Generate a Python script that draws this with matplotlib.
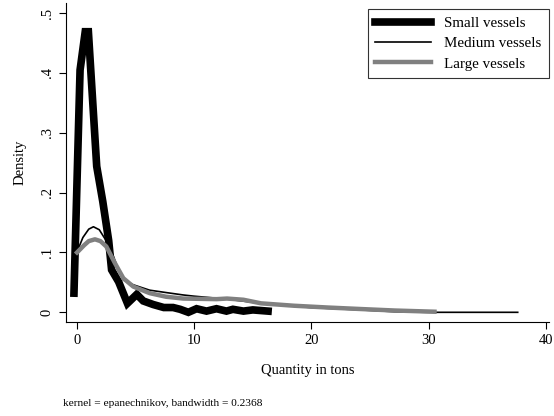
import matplotlib.pyplot as plt

plt.rcParams['font.family'] = ['Liberation Serif', 'DejaVu Serif']

# Kernel density estimates
small_x = [-0.26, 0.26, 0.7, 0.97, 1.68, 2.2, 2.7, 2.95, 3.55, 4.3, 5.1, 5.65, 6.5,
           7.4, 8.2, 8.8, 9.5, 10.2, 11.05, 11.9, 12.75, 13.3, 14.2, 15.0, 16.3]
small_y = [0.032, 0.405, 0.469, 0.469, 0.244, 0.185, 0.12, 0.071, 0.051, 0.015, 0.03,
           0.019, 0.013, 0.008, 0.008, 0.005, 0.0, 0.006, 0.002, 0.006, 0.002,
           0.005, 0.002, 0.004, 0.002]

medium_x = [0.0, 0.5, 1.0, 1.4, 1.9, 2.8, 3.4, 3.95, 4.8, 6.2, 7.6, 9.06, 9.97, 12.8,
            15.7, 19.9, 24.2, 27.1, 29.9, 37.6]
medium_y = [0.101, 0.125, 0.139, 0.143, 0.138, 0.11, 0.078, 0.054, 0.046, 0.037, 0.033,
            0.029, 0.027, 0.022, 0.015, 0.008, 0.004, 0.001, 0.0, 0.0]

large_x = [0.0, 0.6, 1.0, 1.53, 2.0, 2.5, 3.24, 3.95, 4.8, 6.2, 7.6, 9.06, 11.9, 12.8,
           14.2, 15.7, 18.5, 21.4, 24.2, 27.1, 30.5]
large_y = [0.1, 0.112, 0.119, 0.122, 0.119, 0.11, 0.082, 0.057, 0.043, 0.032, 0.026,
           0.023, 0.022, 0.023, 0.021, 0.015, 0.011, 0.008, 0.0055, 0.003, 0.001]

labels = ['Small vessels', 'Medium vessels', 'Large vessels']
x_ticks = [0, 10, 20, 30, 40]
y_ticks = [0, 0.1, 0.2, 0.3, 0.4, 0.5]
y_tick_labels = ['0', '.1', '.2', '.3', '.4', '.5']

fig = plt.figure(figsize=(5.54, 4.16), dpi=100)
ax = fig.add_axes([66 / 554, 1 - 322 / 416, (549 - 66) / 554, (322 - 3) / 416])

ax.plot(small_x, small_y, color='black', lw=5.5, solid_joinstyle='miter', label=labels[0])
ax.plot(medium_x, medium_y, color='black', lw=1.2, label=labels[1])
ax.plot(large_x, large_y, color='#808080', lw=3.2, label=labels[2])

ax.set_xlim(-0.94, 40.27)
ax.set_ylim(-0.0162, 0.517)
ax.set_xticks(x_ticks)
ax.set_yticks(y_ticks)
ax.set_yticklabels(y_tick_labels, rotation=90, va='center')
ax.tick_params(direction='out', length=5, width=0.8, labelsize=10.5, pad=4)

for s in ['top', 'right']:
    ax.spines[s].set_visible(False)

ax.set_xlabel('Quantity in tons', fontsize=10.5, labelpad=12)
ax.set_ylabel('Density', fontsize=10.5, labelpad=10)

# legend box sits in the upper right corner
leg = ax.legend(loc='upper right', bbox_to_anchor=(1.0, 0.981), borderaxespad=0,
                fontsize=10.8, frameon=True, fancybox=False, edgecolor='black',
                handlelength=3.7, borderpad=0.5, labelspacing=0.45, handletextpad=0.9)
leg.get_frame().set_linewidth(0.8)

fig.text(63 / 554, 1 - 404 / 416, 'kernel = epanechnikov, bandwidth = 0.2368',
         fontsize=8.2, va='center')

fig.savefig('out.png', dpi=100)
